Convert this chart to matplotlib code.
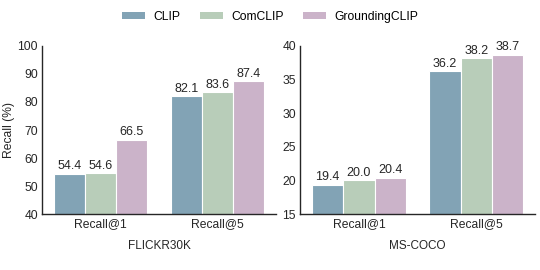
import matplotlib
matplotlib.use("Agg")
import matplotlib.pyplot as plt
import numpy as np
from matplotlib.patches import Patch

plt.rcParams['font.family'] = ['Liberation Sans', 'DejaVu Sans']

methods = ["CLIP", "ComCLIP", "GroundingCLIP"]
colors = ["#82a3b5", "#b8cdb9", "#cbb3c9"]
metrics = ["Recall@1", "Recall@5"]

flickr_clip = [54.4, 82.1]
flickr_comclip = [54.6, 83.6]
flickr_grounding = [66.5, 87.4]

coco_clip = [19.4, 36.2]
coco_comclip = [20.0, 38.2]
coco_grounding = [20.4, 38.7]

fig = plt.figure(figsize=(5.4, 2.7), dpi=100)
ax1 = fig.add_axes([0.078, 0.207, 0.433, 0.623])
ax2 = fig.add_axes([0.556, 0.207, 0.435, 0.623])

def draw(ax, series, ylim, yticks, xlabel):
    x = np.arange(len(metrics))
    w = 0.8 / 3
    for i, (vals, c) in enumerate(zip(series, colors)):
        pos = x - 0.8 / 2 + w / 2 + i * w
        bars = ax.bar(pos, vals, width=w, color=c, edgecolor='white', linewidth=0.8)
        for b, v in zip(bars, vals):
            ax.text(b.get_x() + b.get_width() / 2, v + (ylim[1] - ylim[0]) * 0.008,
                    f"{v:.1f}", ha='center', va='bottom', fontsize=9, color='#262626')
    ax.set_xlim(-0.5, 1.5)
    ax.set_ylim(*ylim)
    ax.set_yticks(yticks)
    ax.set_xticks(x)
    ax.set_xticklabels(metrics)
    ax.set_xlabel(xlabel, fontsize=8.5, labelpad=7, color='#262626')
    ax.tick_params(axis='both', length=0, labelsize=8.7, colors='#262626', pad=3)
    for s in ['top', 'right']:
        ax.spines[s].set_visible(False)
    for s in ['left', 'bottom']:
        ax.spines[s].set_color('#262626')
        ax.spines[s].set_linewidth(1.0)

draw(ax1, [flickr_clip, flickr_comclip, flickr_grounding], (40, 100),
     [40, 50, 60, 70, 80, 90, 100], "FLICKR30K")
draw(ax2, [coco_clip, coco_comclip, coco_grounding], (15, 40),
     [15, 20, 25, 30, 35, 40], "MS-COCO")
ax1.set_ylabel("Recall (%)", fontsize=8.7, color='#262626', labelpad=2)

handles = [Patch(facecolor=c, edgecolor='none') for c in colors]
fig.legend(handles, methods, loc='upper center', bbox_to_anchor=(0.5, 1.0), ncol=3,
           frameon=False, fontsize=8.7, handlelength=1.9, handleheight=0.6,
           columnspacing=1.6, handletextpad=0.7)

fig.savefig("out.png", dpi=100)
